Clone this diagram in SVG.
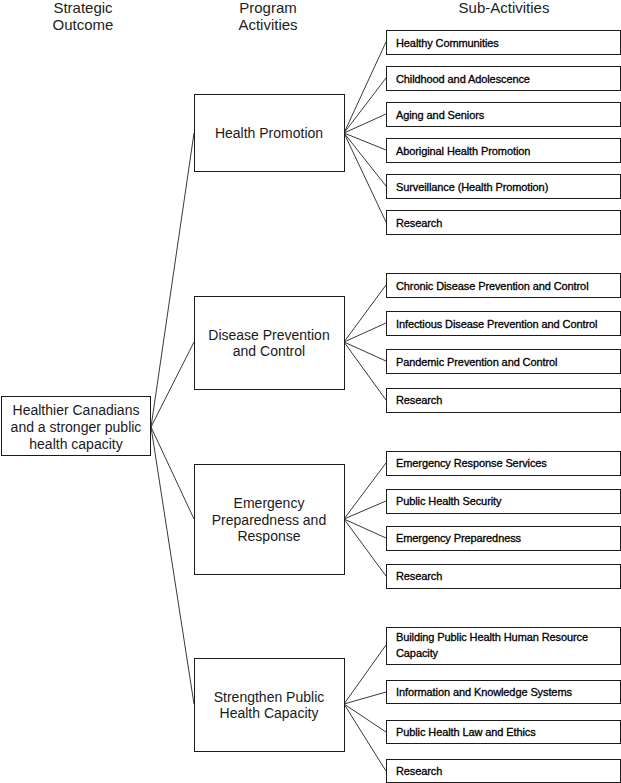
<svg xmlns="http://www.w3.org/2000/svg" width="621" height="783" viewBox="0 0 621 783">
<style>
.box{fill:#fff;stroke:#1a1a1a;stroke-width:1}
.hdr{font-family:"Liberation Sans",Arial,sans-serif;font-size:15px;fill:#222;text-anchor:middle}
.main{font-family:"Liberation Sans",Arial,sans-serif;font-size:14px;fill:#1a1a1a;text-anchor:middle}
.sub{font-family:"Liberation Sans",Arial,sans-serif;font-size:11px;fill:#000;stroke:#000;stroke-width:0.3;letter-spacing:-0.1px}
.conn line{stroke:#222;stroke-width:0.9}
</style>
<rect width="621" height="783" fill="#fff"/>
<g id="headers">
<text class="hdr" x="83" y="13">Strategic</text>
<text class="hdr" x="83" y="30">Outcome</text>
<text class="hdr" x="268" y="13">Program</text>
<text class="hdr" x="268" y="30">Activities</text>
<text class="hdr" x="504" y="13">Sub-Activities</text>
</g>
<g id="connectors" class="conn">
<line x1="151" y1="427" x2="194" y2="133"/>
<line x1="151" y1="427" x2="194" y2="342"/>
<line x1="151" y1="427" x2="194" y2="519"/>
<line x1="151" y1="427" x2="194" y2="704"/>
<line x1="344" y1="133" x2="386" y2="42"/>
<line x1="344" y1="133" x2="386" y2="78"/>
<line x1="344" y1="133" x2="386" y2="114"/>
<line x1="344" y1="133" x2="386" y2="150"/>
<line x1="344" y1="133" x2="386" y2="186"/>
<line x1="344" y1="133" x2="386" y2="222"/>
<line x1="344" y1="342" x2="386" y2="285"/>
<line x1="344" y1="342" x2="386" y2="323"/>
<line x1="344" y1="342" x2="386" y2="361"/>
<line x1="344" y1="342" x2="386" y2="400"/>
<line x1="344" y1="519" x2="386" y2="463"/>
<line x1="344" y1="519" x2="386" y2="501"/>
<line x1="344" y1="519" x2="386" y2="538"/>
<line x1="344" y1="519" x2="386" y2="576"/>
<line x1="344" y1="704" x2="386" y2="645"/>
<line x1="344" y1="704" x2="386" y2="692"/>
<line x1="344" y1="704" x2="386" y2="732"/>
<line x1="344" y1="704" x2="386" y2="771"/>
</g>
<g id="root">
<rect class="box" x="1.5" y="396.5" width="149" height="59"/>
<text class="main" x="76" y="415">Healthier Canadians</text>
<text class="main" x="76" y="432">and a stronger public</text>
<text class="main" x="76" y="449">health capacity</text>
</g>
<g id="pa-health-promotion">
<rect class="box" x="194.5" y="94.5" width="150" height="77"/>
<text class="main" x="269" y="138">Health Promotion</text>
</g>
<g id="pa-disease">
<rect class="box" x="194.5" y="296.5" width="150" height="93"/>
<text class="main" x="269" y="340">Disease Prevention</text>
<text class="main" x="269" y="356">and Control</text>
</g>
<g id="pa-emergency">
<rect class="box" x="194.5" y="464.5" width="150" height="110"/>
<text class="main" x="269" y="508">Emergency</text>
<text class="main" x="269" y="525">Preparedness and</text>
<text class="main" x="269" y="541">Response</text>
</g>
<g id="pa-strengthen">
<rect class="box" x="194.5" y="658.5" width="150" height="93"/>
<text class="main" x="269" y="702">Strengthen Public</text>
<text class="main" x="269" y="718">Health Capacity</text>
</g>
<g id="sub-hp-1"><rect class="box" x="386.5" y="30.5" width="234" height="24"/><text class="sub" x="396" y="47">Healthy Communities</text></g>
<g id="sub-hp-2"><rect class="box" x="386.5" y="66.5" width="234" height="24"/><text class="sub" x="396" y="83">Childhood and Adolescence</text></g>
<g id="sub-hp-3"><rect class="box" x="386.5" y="102.5" width="234" height="24"/><text class="sub" x="396" y="119">Aging and Seniors</text></g>
<g id="sub-hp-4"><rect class="box" x="386.5" y="138.5" width="234" height="24"/><text class="sub" x="396" y="155">Aboriginal Health Promotion</text></g>
<g id="sub-hp-5"><rect class="box" x="386.5" y="174.5" width="234" height="24"/><text class="sub" x="396" y="191">Surveillance (Health Promotion)</text></g>
<g id="sub-hp-6"><rect class="box" x="386.5" y="210.5" width="234" height="24"/><text class="sub" x="396" y="227">Research</text></g>
<g id="sub-dp-1"><rect class="box" x="386.5" y="273.5" width="234" height="24"/><text class="sub" x="396" y="290">Chronic Disease Prevention and Control</text></g>
<g id="sub-dp-2"><rect class="box" x="386.5" y="311.5" width="234" height="24"/><text class="sub" x="396" y="328">Infectious Disease Prevention and Control</text></g>
<g id="sub-dp-3"><rect class="box" x="386.5" y="349.5" width="234" height="24"/><text class="sub" x="396" y="366">Pandemic Prevention and Control</text></g>
<g id="sub-dp-4"><rect class="box" x="386.5" y="388.5" width="234" height="24"/><text class="sub" x="396" y="404">Research</text></g>
<g id="sub-ep-1"><rect class="box" x="386.5" y="451.5" width="234" height="24"/><text class="sub" x="396" y="467">Emergency Response Services</text></g>
<g id="sub-ep-2"><rect class="box" x="386.5" y="489.5" width="234" height="24"/><text class="sub" x="396" y="505">Public Health Security</text></g>
<g id="sub-ep-3"><rect class="box" x="386.5" y="526.5" width="234" height="24"/><text class="sub" x="396" y="542">Emergency Preparedness</text></g>
<g id="sub-ep-4"><rect class="box" x="386.5" y="564.5" width="234" height="24"/><text class="sub" x="396" y="580">Research</text></g>
<g id="sub-sp-1"><rect class="box" x="386.5" y="627.5" width="234" height="37"/><text class="sub" x="396" y="641">Building Public Health Human Resource</text><text class="sub" x="396" y="657">Capacity</text></g>
<g id="sub-sp-2"><rect class="box" x="386.5" y="680.5" width="234" height="23"/><text class="sub" x="396" y="696">Information and Knowledge Systems</text></g>
<g id="sub-sp-3"><rect class="box" x="386.5" y="720.5" width="234" height="23"/><text class="sub" x="396" y="736">Public Health Law and Ethics</text></g>
<g id="sub-sp-4"><rect class="box" x="386.5" y="759.5" width="234" height="23"/><text class="sub" x="396" y="775">Research</text></g>
</svg>
